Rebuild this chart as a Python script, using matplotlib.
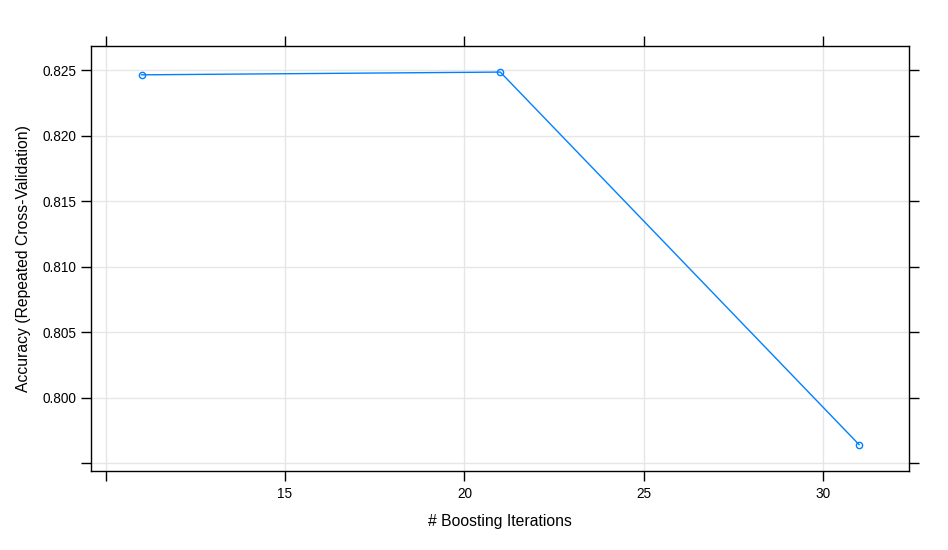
import matplotlib
matplotlib.use("Agg")
import matplotlib.pyplot as plt

# boosting iterations vs. cross-validated accuracy
iterations = [11, 21, 31]
accuracy = [0.82466, 0.82487, 0.79644]

x_ticks = [10, 15, 20, 25, 30]
x_tick_labels = ["", "15", "20", "25", "30"]
y_ticks = [0.795, 0.800, 0.805, 0.810, 0.815, 0.820, 0.825]
y_tick_labels = ["", "0.800", "0.805", "0.810", "0.815", "0.820", "0.825"]

plt.rcParams["font.family"] = ["Liberation Sans", "DejaVu Sans"]

fig = plt.figure(figsize=(9.48, 5.5), dpi=100)
ax = fig.add_axes([91.3 / 948, 79.3 / 550, 818 / 948, 424.7 / 550])

ax.plot(iterations, accuracy, color="#0080ff", linewidth=1.0, marker="o",
        markersize=4.5, markerfacecolor="none", markeredgecolor="#0080ff",
        markeredgewidth=1.0, zorder=3)

# lattice-style 7% padding around the data range
xr = max(iterations) - min(iterations)
yr = max(accuracy) - min(accuracy)
ax.set_xlim(min(iterations) - 0.07 * xr, max(iterations) + 0.07 * xr)
ax.set_ylim(min(accuracy) - 0.07 * yr, max(accuracy) + 0.07 * yr)

ax.set_xticks(x_ticks)
ax.set_xticklabels(x_tick_labels)
ax.set_yticks(y_ticks)
ax.set_yticklabels(y_tick_labels)
ax.grid(True, color="#e6e6e6", linewidth=1.0, zorder=0)
ax.set_axisbelow(True)

ax.tick_params(axis="both", direction="out", length=7, width=1.0,
               labelsize=9.8, top=True, right=True, color="black")
ax.tick_params(axis="y", pad=4)
ax.tick_params(axis="x", pad=5)
for spine in ax.spines.values():
    spine.set_linewidth(1.0)

ax.set_xlabel("# Boosting Iterations", fontsize=11.3, labelpad=9)
ax.set_ylabel("Accuracy (Repeated Cross-Validation)", fontsize=11.3, labelpad=8)

fig.savefig("out.png", dpi=100)
